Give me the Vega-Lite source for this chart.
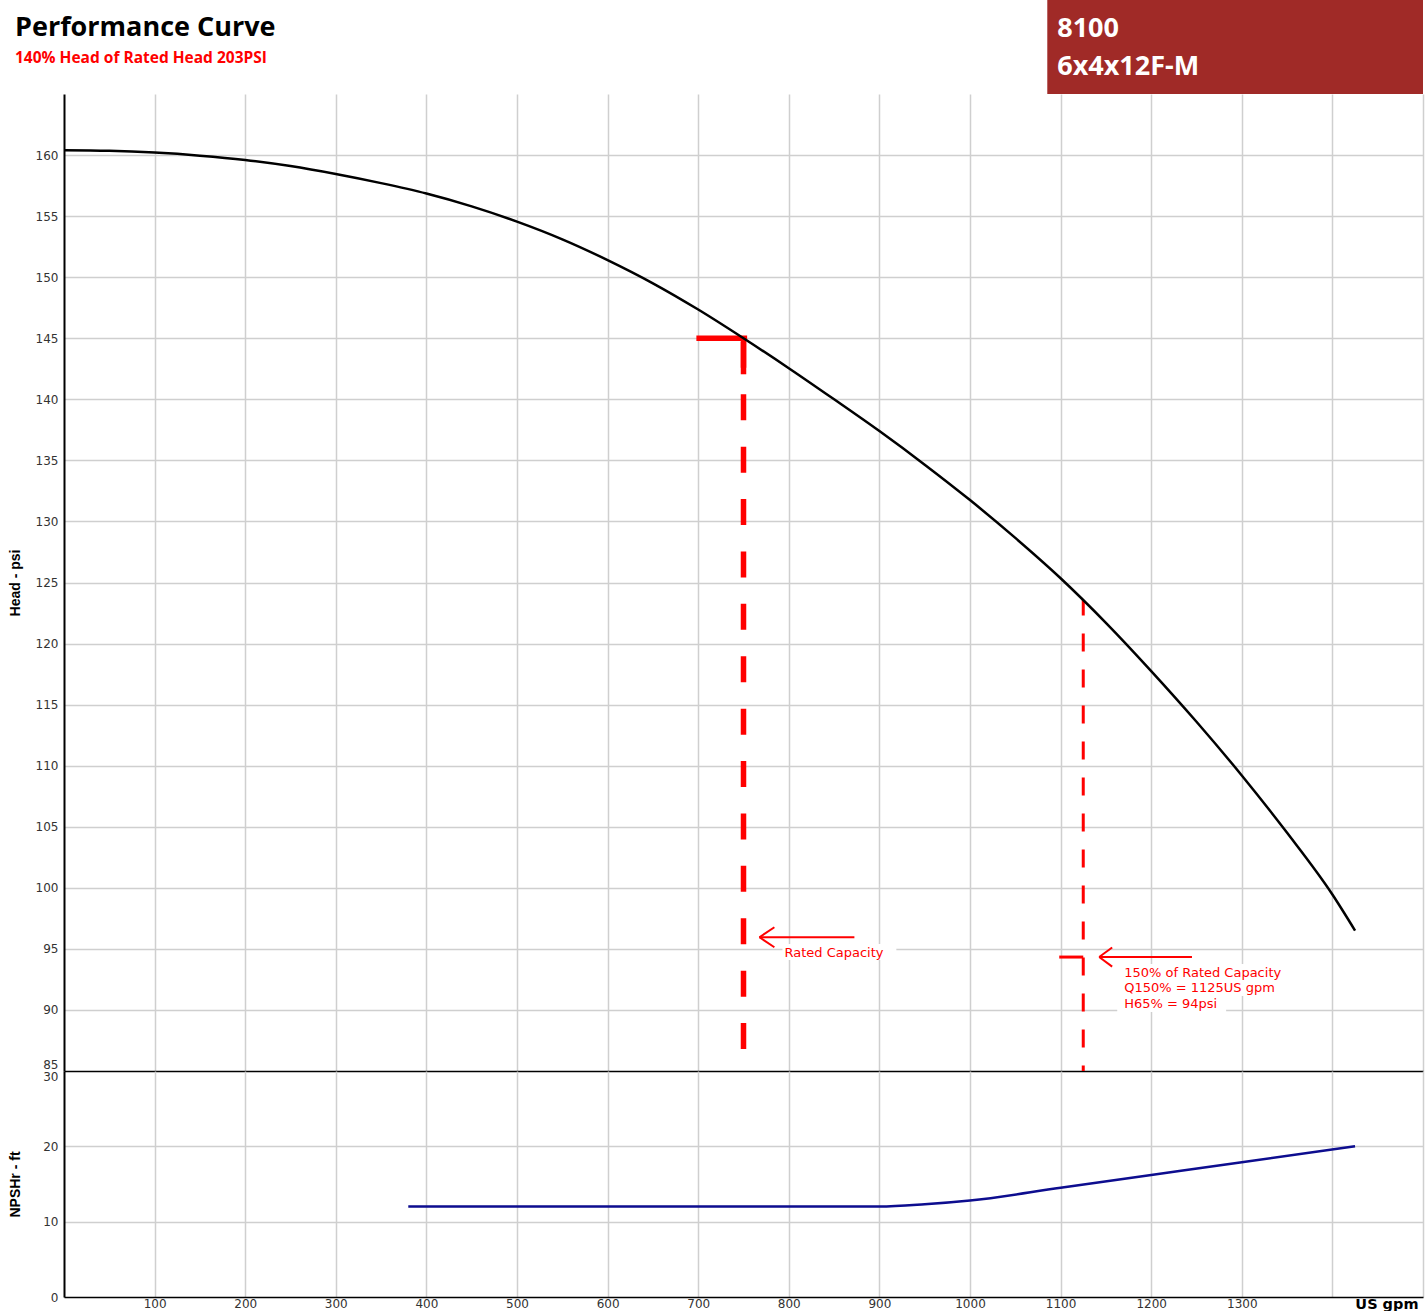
{
  "$schema": "https://vega.github.io/schema/vega-lite/v6.json",
  "padding": {"left": 8, "top": -1, "right": 2, "bottom": 0},
  "autosize": {"type": "pad"},
  "background": "white",
  "bounds": "flush",
  "spacing": 0,
  "config": {
    "view": {"stroke": null},
    "axis": {
      "labelFont": "DejaVu Sans",
      "labelFontSize": 12,
      "labelColor": "#333333",
      "gridColor": "#cfcfcf",
      "gridWidth": 1.5,
      "titleFont": "Liberation Sans",
      "titleFontWeight": "bold",
      "titleFontSize": 14,
      "titleColor": "#000000"
    }
  },
  "datasets": {
    "head": [
      {"q": 0, "h": 160.4}, {"q": 50, "h": 160.35}, {"q": 100, "h": 160.2}, {"q": 150, "h": 159.95},
      {"q": 200, "h": 159.6}, {"q": 250, "h": 159.1}, {"q": 300, "h": 158.45}, {"q": 350, "h": 157.7},
      {"q": 400, "h": 156.85}, {"q": 450, "h": 155.8}, {"q": 500, "h": 154.55}, {"q": 550, "h": 153.1},
      {"q": 600, "h": 151.4}, {"q": 650, "h": 149.5}, {"q": 700, "h": 147.35}, {"q": 750, "h": 145.0},
      {"q": 800, "h": 142.55}, {"q": 850, "h": 140.0}, {"q": 900, "h": 137.4}, {"q": 950, "h": 134.65},
      {"q": 1000, "h": 131.75}, {"q": 1050, "h": 128.65}, {"q": 1100, "h": 125.35}, {"q": 1150, "h": 121.7},
      {"q": 1200, "h": 117.75}, {"q": 1250, "h": 113.6}, {"q": 1300, "h": 109.2}, {"q": 1350, "h": 104.5},
      {"q": 1400, "h": 99.45}, {"q": 1425, "h": 96.5}
    ],
    "npsh": [
      {"q": 380, "n": 12.0}, {"q": 500, "n": 12.0}, {"q": 600, "n": 12.0}, {"q": 700, "n": 12.0},
      {"q": 800, "n": 12.0}, {"q": 900, "n": 12.0}, {"q": 950, "n": 12.3}, {"q": 1000, "n": 12.8},
      {"q": 1100, "n": 14.5}, {"q": 1200, "n": 16.2}, {"q": 1300, "n": 17.9}, {"q": 1425, "n": 20.0}
    ],
    "thickSolid": [
      {"q": 698, "h": 145.0, "q2": 754, "h2": 145.0},
      {"q": 750, "h": 145.0, "q2": 750, "h2": 142.05}
    ],
    "thickDash": [
      {"q": 750, "h": 145.0, "q2": 750, "h2": 86.7}
    ],
    "thinDash": [
      {"q": 1125, "h": 123.56, "q2": 1125, "h2": 85.0}
    ],
    "tick": [
      {"q": 1098.5, "h": 94.33, "q2": 1125, "h2": 94.33}
    ],
    "arrows": [
      {"q": 767.6, "h": 95.95, "q2": 872.4, "h2": 95.95},
      {"q": 767.6, "h": 95.95, "q2": 784.1, "h2": 96.77},
      {"q": 767.6, "h": 95.95, "q2": 784.1, "h2": 95.13},
      {"q": 1142.6, "h": 94.33, "q2": 1245.0, "h2": 94.33},
      {"q": 1142.6, "h": 94.33, "q2": 1156.9, "h2": 95.11},
      {"q": 1142.6, "h": 94.33, "q2": 1156.9, "h2": 93.55}
    ],
    "textBg": [
      {"q": 793.0, "h": 95.40, "q2": 918.7, "h2": 94.09},
      {"q": 1162.5, "h": 93.76, "q2": 1361.0, "h2": 92.45},
      {"q": 1162.5, "h": 92.45, "q2": 1348.0, "h2": 91.14},
      {"q": 1162.5, "h": 91.14, "q2": 1282.7, "h2": 89.83}
    ],
    "notes": [
      {"q": 795.2, "h": 94.7, "label": "Rated Capacity"},
      {"q": 1170.2, "h": 93.06, "label": "150% of Rated Capacity"},
      {"q": 1170.2, "h": 91.79, "label": "Q150% = 1125US gpm"},
      {"q": 1170.2, "h": 90.48, "label": "H65% = 94psi"}
    ],
    "header": [
      {"q": 1085.3, "h": 165.0, "q2": 1500, "h2": 172.7}
    ],
    "headerText": [
      {"q": 1096.3, "h": 169.67, "label": "8100"},
      {"q": 1096.3, "h": 166.56, "label": "6x4x12F-M"}
    ]
  },
  "vconcat": [
    {
      "width": 1359,
      "height": 977,
      "title": {
        "text": "Performance Curve",
        "subtitle": "140% Head of Rated Head 203PSI",
        "anchor": "start",
        "frame": "group",
        "dx": -49,
        "offset": -68,
        "font": "Open Sans",
        "fontSize": 27,
        "fontWeight": "bold",
        "color": "#000000",
        "subtitleFont": "Open Sans",
        "subtitleFontSize": 15.5,
        "subtitleFontWeight": "bold",
        "subtitleColor": "#ff0000",
        "subtitlePadding": 9
      },
      "encoding": {
        "x": {
          "field": "q", "type": "quantitative",
          "scale": {"domain": [0, 1500], "nice": false, "zero": false},
          "axis": {
            "values": [100, 200, 300, 400, 500, 600, 700, 800, 900, 1000, 1100, 1200, 1300, 1400, 1500],
            "labels": false, "ticks": false, "domain": true,
            "domainColor": "#000000", "domainWidth": 1.5, "grid": true, "title": null
          }
        },
        "y": {
          "field": "h", "type": "quantitative",
          "scale": {"domain": [85, 165], "nice": false, "zero": false},
          "axis": {
            "values": [85, 90, 95, 100, 105, 110, 115, 120, 125, 130, 135, 140, 145, 150, 155, 160],
            "ticks": false, "labelPadding": 6,
            "labelBaseline": {"condition": {"test": "datum.value == 85", "value": "bottom"}, "value": "middle"},
            "gridOpacity": {"condition": {"test": "datum.value == 85", "value": 0}, "value": 1},
            "domainColor": "#000000", "domainWidth": 2, "grid": true,
            "title": "Head - psi", "titleX": -42, "titleAngle": 270, "titleBaseline": "bottom"
          }
        }
      },
      "layer": [
        {
          "data": {"name": "header"},
          "mark": {"type": "rect", "color": "#a02a27"},
          "encoding": {"x2": {"field": "q2"}, "y2": {"field": "h2"}}
        },
        {
          "data": {"name": "headerText"},
          "mark": {"type": "text", "align": "left", "baseline": "alphabetic", "font": "Open Sans", "fontSize": 27, "fontWeight": "bold", "color": "#ffffff"},
          "encoding": {"text": {"field": "label"}}
        },
        {
          "data": {"name": "textBg"},
          "mark": {"type": "rect", "color": "#ffffff"},
          "encoding": {"x2": {"field": "q2"}, "y2": {"field": "h2"}}
        },
        {
          "data": {"name": "thickDash"},
          "mark": {"type": "rule", "color": "#ff0000", "strokeWidth": 5.5, "strokeDash": [26, 26.4], "strokeDashOffset": 48.8},
          "encoding": {"x2": {"field": "q2"}, "y2": {"field": "h2"}}
        },
        {
          "data": {"name": "thickSolid"},
          "mark": {"type": "rule", "color": "#ff0000", "strokeWidth": 5.5},
          "encoding": {"x2": {"field": "q2"}, "y2": {"field": "h2"}}
        },
        {
          "data": {"name": "thinDash"},
          "mark": {"type": "rule", "color": "#ff0000", "strokeWidth": 3, "strokeDash": [18, 18], "strokeDashOffset": 2.7},
          "encoding": {"x2": {"field": "q2"}, "y2": {"field": "h2"}}
        },
        {
          "data": {"name": "tick"},
          "mark": {"type": "rule", "color": "#ff0000", "strokeWidth": 3},
          "encoding": {"x2": {"field": "q2"}, "y2": {"field": "h2"}}
        },
        {
          "data": {"name": "arrows"},
          "mark": {"type": "rule", "color": "#ff0000", "strokeWidth": 2},
          "encoding": {"x2": {"field": "q2"}, "y2": {"field": "h2"}}
        },
        {
          "data": {"name": "notes"},
          "mark": {"type": "text", "align": "left", "baseline": "middle", "font": "DejaVu Sans", "fontSize": 13, "color": "#ff0000"},
          "encoding": {"text": {"field": "label"}}
        },
        {
          "data": {"name": "head"},
          "mark": {"type": "line", "color": "#000000", "strokeWidth": 2.5, "interpolate": "monotone"},
          "encoding": {}
        }
      ]
    },
    {
      "width": 1359,
      "height": 226,
      "data": {"name": "npsh"},
      "mark": {"type": "line", "color": "#0d0d8f", "strokeWidth": 2.5, "interpolate": "monotone"},
      "encoding": {
        "x": {
          "field": "q", "type": "quantitative",
          "scale": {"domain": [0, 1500], "nice": false, "zero": false},
          "axis": {
            "values": [100, 200, 300, 400, 500, 600, 700, 800, 900, 1000, 1100, 1200, 1300, 1400, 1500],
            "format": "d",
            "labelExpr": "datum.value >= 1400 ? '' : datum.label",
            "ticks": false, "labelPadding": 1, "labelBaseline": "top",
            "domainColor": "#000000", "domainWidth": 1.5, "grid": true,
            "title": "US gpm", "titleX": 1354, "titleY": 11, "titleAlign": "right",
            "titleBaseline": "alphabetic", "titleFont": "DejaVu Sans", "titleFontSize": 14.5
          }
        },
        "y": {
          "field": "n", "type": "quantitative",
          "scale": {"domain": [0, 30], "nice": false, "zero": false},
          "axis": {
            "values": [0, 10, 20, 30],
            "ticks": false, "labelPadding": 6,
            "labelBaseline": {"condition": {"test": "datum.value == 30", "value": "top"}, "value": "middle"},
            "gridOpacity": {"condition": {"test": "datum.value == 30 || datum.value == 0", "value": 0}, "value": 1},
            "domainColor": "#000000", "domainWidth": 2, "grid": true,
            "title": "NPSHr - ft", "titleX": -42, "titleAngle": 270, "titleBaseline": "bottom"
          }
        }
      }
    }
  ]
}
